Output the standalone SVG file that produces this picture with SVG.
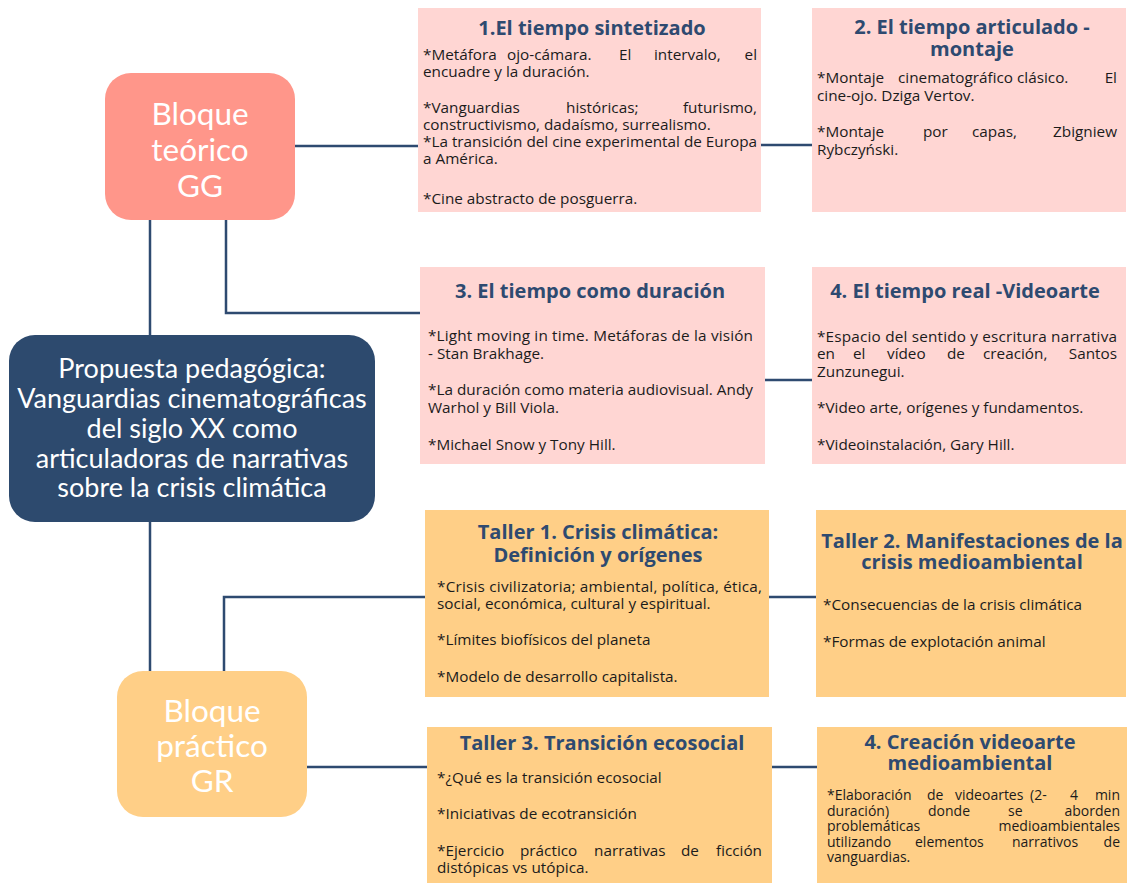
<svg xmlns="http://www.w3.org/2000/svg" width="1127" height="883" viewBox="0 0 1127 883">
<style>
.conn{stroke:#2E4A70;stroke-width:2.5;fill:none}
.pink{fill:#FFD6D3}
.org{fill:#FFCF87}
.h{font-family:'Open Sans','Liberation Sans',sans-serif;font-weight:700;font-size:20px;fill:#2E4A70;text-anchor:middle}
.b{font-family:'Open Sans','Liberation Sans',sans-serif;font-size:15.3px;fill:#1b1b1b}
.s{font-size:14px}
.e{text-anchor:end}
.big{font-family:Lato,'Liberation Sans',sans-serif;font-size:31.5px;fill:#ffffff;text-anchor:middle}
.mid{font-family:Lato,'Liberation Sans',sans-serif;font-size:27px;fill:#ffffff;text-anchor:middle}
</style>
<rect width="1127" height="883" fill="#ffffff"/>
<g id="connectors">
<path class="conn" d="M295,146 H418"/>
<path class="conn" d="M761,145 H812"/>
<path class="conn" d="M226,220 V313 H420"/>
<path class="conn" d="M765,380 H812"/>
<path class="conn" d="M150,220 V335"/>
<path class="conn" d="M150,522 V671"/>
<path class="conn" d="M224,671 V597 H425"/>
<path class="conn" d="M769,597 H816"/>
<path class="conn" d="M307,767 H427"/>
<path class="conn" d="M772,767 H817"/>
</g>
<g id="bloque-teorico">
<rect x="105" y="73" width="190" height="147" rx="26" fill="#FF968A"/>
<text class="big"><tspan x="200" y="125">Bloque</tspan><tspan x="200" y="161">teórico</tspan><tspan x="200" y="197">GG</tspan></text>
</g>
<g id="central">
<rect x="9" y="335" width="366" height="187" rx="26" fill="#2D4A6E"/>
<text class="mid"><tspan x="192" y="378">Propuesta pedagógica:</tspan><tspan x="192" y="408">Vanguardias cinematográficas</tspan><tspan x="192" y="438">del siglo XX como</tspan><tspan x="192" y="468">articuladoras de narrativas</tspan><tspan x="192" y="497">sobre la crisis climática</tspan></text>
</g>
<g id="bloque-practico">
<rect x="117" y="671" width="190" height="146" rx="26" fill="#FFCF87"/>
<text class="big"><tspan x="212" y="722">Bloque</tspan><tspan x="212" y="757">práctico</tspan><tspan x="212" y="792">GR</tspan></text>
</g>
<g id="box1">
<rect class="pink" x="418" y="8" width="343" height="204"/>
<text class="h" x="592" y="35">1.El tiempo sintetizado</text>
<text class="b"><tspan x="423" y="60">*Metáfora</tspan><tspan x="507" y="60">ojo-cámara.</tspan><tspan x="619" y="60">El</tspan><tspan x="654" y="60">intervalo,</tspan><tspan class="e" x="757" y="60">el</tspan><tspan x="423" y="77">encuadre y la duración.</tspan><tspan x="423" y="113">*Vanguardias</tspan><tspan x="566" y="113">históricas;</tspan><tspan class="e" x="757" y="113">futurismo,</tspan><tspan x="423" y="130">constructivismo, dadaísmo, surrealismo.</tspan><tspan x="423" y="147" textLength="334" lengthAdjust="spacing">*La transición del cine experimental de Europa</tspan><tspan x="423" y="164">a América.</tspan><tspan x="423" y="204">*Cine abstracto de posguerra.</tspan></text>
</g>
<g id="box2">
<rect class="pink" x="812" y="8" width="314" height="204"/>
<text class="h"><tspan x="972" y="34">2. El tiempo articulado -</tspan><tspan x="972" y="56">montaje</tspan></text>
<text class="b"><tspan x="817" y="83">*Montaje</tspan><tspan x="898" y="83">cinematográfico</tspan><tspan x="1017" y="83">clásico.</tspan><tspan class="e" x="1117" y="83">El</tspan><tspan x="817" y="101">cine-ojo. Dziga Vertov.</tspan><tspan x="817" y="137">*Montaje</tspan><tspan x="923" y="137">por</tspan><tspan x="972" y="137">capas,</tspan><tspan class="e" x="1117" y="137">Zbigniew</tspan><tspan x="817" y="155">Rybczyński.</tspan></text>
</g>
<g id="box3">
<rect class="pink" x="420" y="267" width="345" height="197"/>
<text class="h" x="590" y="298">3. El tiempo como duración</text>
<text class="b"><tspan x="428" y="341" textLength="325" lengthAdjust="spacing">*Light moving in time. Metáforas de la visión</tspan><tspan x="428" y="359">- Stan Brakhage.</tspan><tspan x="428" y="395" textLength="325" lengthAdjust="spacing">*La duración como materia audiovisual. Andy</tspan><tspan x="428" y="413">Warhol y Bill Viola.</tspan><tspan x="428" y="450">*Michael Snow y Tony Hill.</tspan></text>
</g>
<g id="box4">
<rect class="pink" x="812" y="267" width="314" height="197"/>
<text class="h" x="965" y="298">4. El tiempo real -Videoarte</text>
<text class="b"><tspan x="817" y="342" textLength="300" lengthAdjust="spacing">*Espacio del sentido y escritura narrativa</tspan><tspan x="817" y="359">en</tspan><tspan x="853" y="359">el</tspan><tspan x="887" y="359">vídeo</tspan><tspan x="947" y="359">de</tspan><tspan x="983" y="359">creación,</tspan><tspan class="e" x="1117" y="359">Santos</tspan><tspan x="817" y="377">Zunzunegui.</tspan><tspan x="817" y="413">*Video arte, orígenes y fundamentos.</tspan><tspan x="817" y="450">*Videoinstalación, Gary Hill.</tspan></text>
</g>
<g id="taller1">
<rect class="org" x="425" y="510" width="344" height="187"/>
<text class="h"><tspan x="598" y="539">Taller 1. Crisis climática:</tspan><tspan x="598" y="562">Definición y orígenes</tspan></text>
<text class="b"><tspan x="437" y="592" textLength="325" lengthAdjust="spacing">*Crisis civilizatoria; ambiental, política, ética,</tspan><tspan x="437" y="609">social, económica, cultural y espiritual.</tspan><tspan x="437" y="645">*Límites biofísicos del planeta</tspan><tspan x="437" y="682">*Modelo de desarrollo capitalista.</tspan></text>
</g>
<g id="taller2">
<rect class="org" x="816" y="510" width="310" height="187"/>
<text class="h"><tspan x="972" y="548">Taller 2. Manifestaciones de la</tspan><tspan x="972" y="569">crisis medioambiental</tspan></text>
<text class="b"><tspan x="823" y="610">*Consecuencias de la crisis climática</tspan><tspan x="823" y="647">*Formas de explotación animal</tspan></text>
</g>
<g id="taller3">
<rect class="org" x="427" y="727" width="345" height="156"/>
<text class="h" x="602" y="750">Taller 3. Transición ecosocial</text>
<text class="b"><tspan x="437" y="783">*¿Qué es la transición ecosocial</tspan><tspan x="437" y="819">*Iniciativas de ecotransición</tspan><tspan x="437" y="856">*Ejercicio</tspan><tspan x="520" y="856">práctico</tspan><tspan x="594" y="856">narrativas</tspan><tspan x="681" y="856">de</tspan><tspan class="e" x="762" y="856">ficción</tspan><tspan x="437" y="873">distópicas vs utópica.</tspan></text>
</g>
<g id="taller4">
<rect class="org" x="817" y="727" width="310" height="156"/>
<text class="h"><tspan x="970" y="749">4. Creación videoarte</tspan><tspan x="970" y="770">medioambiental</tspan></text>
<text class="b s"><tspan x="827" y="800">*Elaboración</tspan><tspan x="927" y="800">de</tspan><tspan x="955" y="800">videoartes</tspan><tspan x="1030" y="800">(2-</tspan><tspan x="1070" y="800">4</tspan><tspan class="e" x="1120" y="800">min</tspan><tspan x="827" y="815.5">duración)</tspan><tspan x="928" y="815.5">donde</tspan><tspan x="1008" y="815.5">se</tspan><tspan class="e" x="1120" y="815.5">aborden</tspan><tspan x="827" y="831">problemáticas</tspan><tspan class="e" x="1120" y="831">medioambientales</tspan><tspan x="827" y="846.5">utilizando</tspan><tspan x="915" y="846.5">elementos</tspan><tspan x="1012" y="846.5">narrativos</tspan><tspan class="e" x="1120" y="846.5">de</tspan><tspan x="827" y="862">vanguardias.</tspan></text>
</g>
</svg>
